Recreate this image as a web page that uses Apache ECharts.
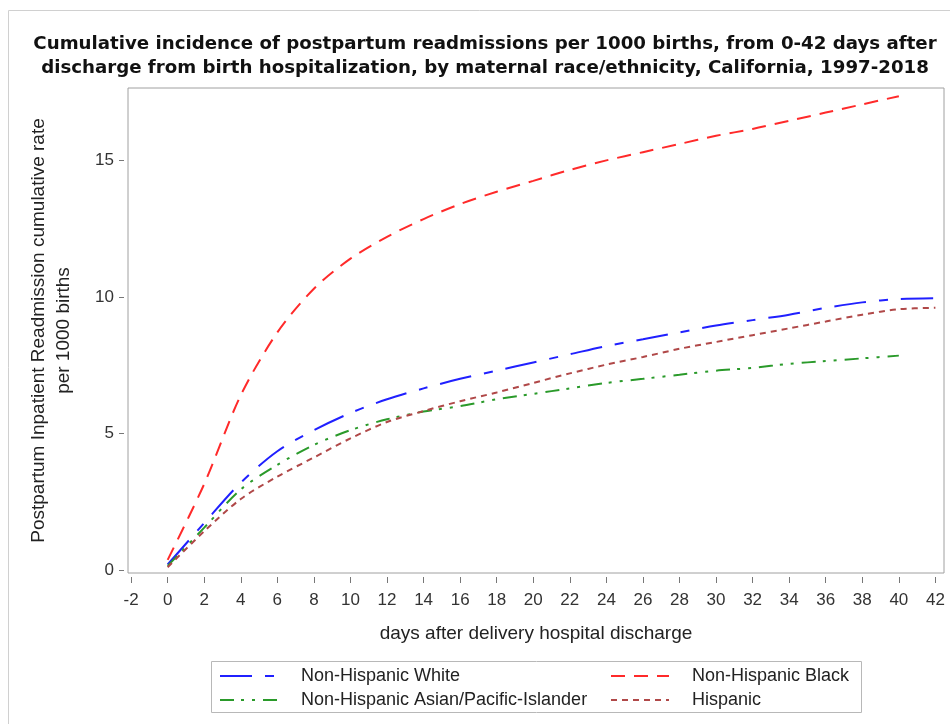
<!DOCTYPE html>
<html>
<head>
<meta charset="utf-8">
<script src="https://cdn.jsdelivr.net/npm/echarts@6/dist/echarts.min.js"></script>
<style>html,body{margin:0;padding:0;background:#fff;}#c{width:950px;height:724px;}</style>
</head>
<body>
<div id="c"></div>
<script>
var titleText = 'Cumulative incidence of postpartum readmissions per 1000 births, from 0-42 days after\ndischarge from birth hospitalization, by maternal race/ethnicity, California, 1997-2018';
var xTitle = 'days after delivery hospital discharge';
var yTitle = 'Postpartum Inpatient Readmission cumulative rate\nper 1000 births';
var xTicks = [-2,0,2,4,6,8,10,12,14,16,18,20,22,24,26,28,30,32,34,36,38,40,42];
var yTicks = [0,5,10,15];
var days = [0,2,4,6,8,10,12,14,16,18,20,22,24,26,28,30,32,34,36,38,40,42];
var seriesNames = ['Non-Hispanic White','Non-Hispanic Black','Non-Hispanic Asian/Pacific-Islander','Hispanic'];
var white    = [0.2,1.72,3.2,4.35,5.12,5.75,6.25,6.65,7.0,7.3,7.6,7.9,8.2,8.45,8.7,8.95,9.15,9.35,9.6,9.8,9.92,9.95];
var black    = [0.37,3.15,6.4,8.7,10.3,11.4,12.2,12.85,13.4,13.85,14.25,14.65,15.0,15.3,15.6,15.9,16.15,16.45,16.75,17.05,17.35,null];
var asian    = [0.15,1.55,2.95,3.85,4.58,5.12,5.52,5.8,6.0,6.25,6.45,6.65,6.85,7.0,7.15,7.3,7.4,7.55,7.65,7.75,7.85,null];
var hispanic = [0.1,1.42,2.6,3.42,4.12,4.82,5.42,5.82,6.18,6.5,6.85,7.2,7.52,7.8,8.1,8.35,8.6,8.85,9.1,9.35,9.55,9.6];

function pairs(arr){
  var out=[];
  for (var i=0;i<days.length;i++){ if (arr[i]!==null) out.push([days[i],arr[i]]); }
  return out;
}
var font = 'Liberation Sans, Arial, sans-serif';
var chart = echarts.init(document.getElementById('c'));
var mk = function(name, data, color, dash){
  return {
    name: name, type: 'line', data: pairs(data), smooth: 0.3, symbol: 'none',
    lineStyle: {color: color, width: 2, type: dash},
    itemStyle: {color: color}
  };
};
var legendCommon = {
  orient: 'vertical', itemWidth: 58, itemHeight: 14, itemGap: 6, padding: 0,
  itemStyle: {opacity: 0},
  textStyle: {fontFamily: font, fontSize: 18, lineHeight: 18, color: '#222', padding: [0,0,0,18]}
};
chart.setOption({
  animation: false,
  title: {
    text: titleText, left: 480, textAlign: 'center', top: 27,
    textStyle: {fontFamily: 'DejaVu Sans', fontWeight: 'bold', fontSize: 18.2, color: '#111', lineHeight: 24}
  },
  graphic: [
    {type: 'rect', shape: {x: 8.5, y: 10.5, width: 960, height: 730}, style: {fill: 'none', stroke: '#d0d0d0', lineWidth: 1}, silent: true},
    {type: 'rect', shape: {x: 211.5, y: 661.5, width: 650, height: 51}, style: {fill: 'none', stroke: '#b8b8b8', lineWidth: 1}, silent: true}
  ],
  legend: [
    Object.assign({}, legendCommon, {left: 219, top: 667, data: [seriesNames[0], seriesNames[2]]}),
    Object.assign({}, legendCommon, {left: 610, top: 667, data: [seriesNames[1], seriesNames[3]]})
  ],
  grid: {left: 128, right: 6, top: 88, bottom: 151, show: true, borderColor: '#a0a0a0', borderWidth: 1, containLabel: false},
  xAxis: {
    type: 'value', min: -2.17, max: 42.47,
    offset: 4,
    name: xTitle, nameLocation: 'middle', nameGap: 47,
    nameTextStyle: {fontFamily: font, fontSize: 19, color: '#222'},
    axisLine: {show: false, onZero: false},
    axisTick: {show: true, length: 6, lineStyle: {color: '#777'}, customValues: xTicks},
    axisLabel: {fontFamily: font, fontSize: 17, color: '#333', margin: 15, customValues: xTicks},
    splitLine: {show: false}
  },
  yAxis: {
    type: 'value', min: -0.11, max: 17.65,
    offset: 4,
    name: yTitle, nameLocation: 'middle', nameGap: 48, nameRotate: 90,
    nameTextStyle: {fontFamily: font, fontSize: 19, color: '#222', lineHeight: 25},
    axisLine: {show: false, onZero: false},
    axisTick: {show: true, length: 5, lineStyle: {color: '#777'}, customValues: yTicks},
    axisLabel: {fontFamily: font, fontSize: 17, color: '#333', margin: 10, customValues: yTicks},
    splitLine: {show: false}
  },
  series: [
    mk(seriesNames[0], white, '#2020ff', [32,13,9,13]),
    mk(seriesNames[1], black, '#ff2a2a', [14,9]),
    mk(seriesNames[2], asian, '#2a9a2a', [14,7,3,8,3,8]),
    mk(seriesNames[3], hispanic, '#b04848', [6,5])
  ]
});
</script>
</body>
</html>
